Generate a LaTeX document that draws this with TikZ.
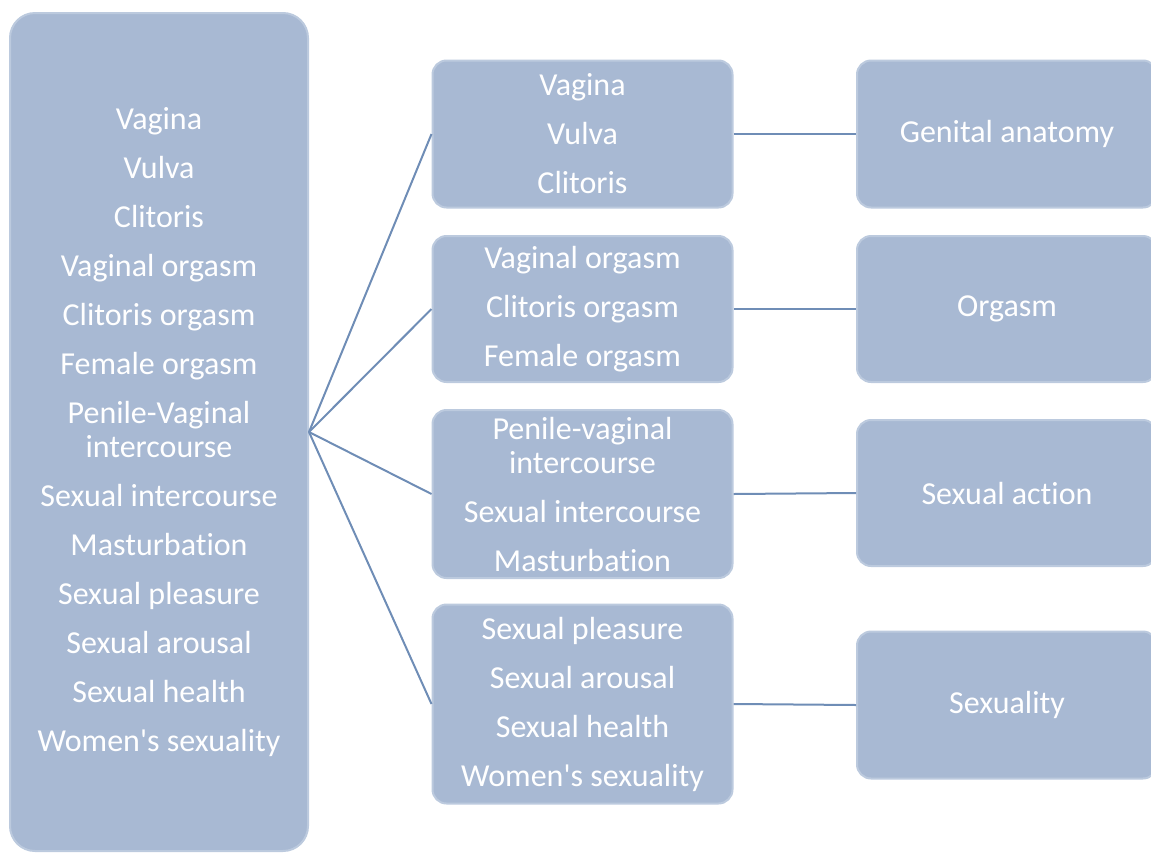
\documentclass[tikz,border=0pt]{standalone}
\usepackage{fontspec}
\setmainfont{Carlito}[Ligatures={NoCommon}]
\definecolor{boxblue}{HTML}{A8B9D3}
\definecolor{boxedge}{HTML}{BCCADE}
\definecolor{linkblue}{HTML}{6F8DB6}
\tikzset{
  termbox/.style={draw=boxedge, line width=2pt, fill=boxblue, rounded corners=14pt,
    text=white, align=center, font=\fontsize{32}{34}\selectfont, inner sep=0pt},
  groupbox/.style={termbox, minimum width=300pt},
  link/.style={draw=linkblue, line width=2pt}
}
\begin{document}
\begin{tikzpicture}[x=1pt,y=-1pt]
  \clip (0,0) rectangle (1151,852);
  \useasboundingbox (0,0) rectangle (1151,852);
  % all search terms
  \node[termbox, rounded corners=25pt, minimum width=298pt, minimum height=838pt] (all) at (159,432)
    {Vagina\\[15pt]Vulva\\[15pt]Clitoris\\[15pt]Vaginal orgasm\\[15pt]Clitoris orgasm\\[15pt]Female orgasm\\[15pt]Penile-Vaginal\\intercourse\\[15pt]Sexual intercourse\\[15pt]Masturbation\\[15pt]Sexual pleasure\\[15pt]Sexual arousal\\[15pt]Sexual health\\[15pt]Women\textquotesingle s sexuality};
  % term groups
  \node[groupbox, minimum height=147pt] (anat) at (582.5,134) {Vagina\\[15pt]Vulva\\[15pt]Clitoris};
  \node[groupbox, minimum height=146pt] (orga) at (582.5,309) {Vaginal orgasm\\[15pt]Clitoris orgasm\\[15pt]Female orgasm};
  \node[groupbox, minimum height=168pt] (acti) at (582.5,494) {Penile-vaginal\\intercourse\\[15pt]Sexual intercourse\\[15pt]Masturbation};
  \node[groupbox, minimum height=199pt] (sexu) at (582.5,704) {Sexual pleasure\\[15pt]Sexual arousal\\[15pt]Sexual health\\[15pt]Women\textquotesingle s sexuality};
  % categories
  \node[groupbox, minimum height=147pt] (catA) at (1007,134) {Genital anatomy};
  \node[groupbox, minimum height=146pt] (catB) at (1007,309) {Orgasm};
  \node[groupbox, minimum height=146pt] (catC) at (1007,493) {Sexual action};
  \node[groupbox, minimum height=147pt] (catD) at (1007,705) {Sexuality};
  \foreach \g/\c in {anat/catA, orga/catB, acti/catC, sexu/catD} {
    \draw[link] (all.east) -- (\g.west);
    \draw[link] (\g.east) -- (\c.west);
  }
\end{tikzpicture}
\end{document}
